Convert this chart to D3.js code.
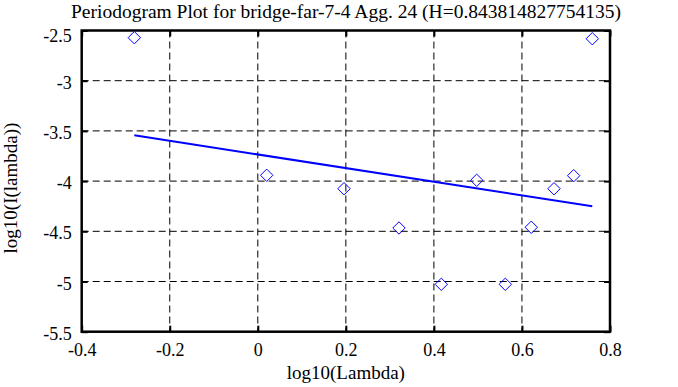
<!DOCTYPE html>
<html>
<head>
<meta charset="utf-8">
<script src="https://cdn.jsdelivr.net/npm/d3@7"></script>
<style>
    body { margin: 0; background: #fff; }
    text { font-family: "Liberation Serif", "DejaVu Serif", serif; fill: #000; }
    .gridLine { stroke: #000; stroke-width: 1; stroke-dasharray: 7,4; }
    .frame { fill: none; stroke: #000; stroke-width: 2.5; }
</style>
</head>
<body>
<script>
(function(){

    //periodogram points (log10 lambda, log10 I(lambda))
    var logLambda = [-0.2805, 0.0202, 0.1958, 0.3207, 0.4168, 0.4972, 0.5622, 0.6212, 0.6728, 0.7175, 0.7598];
    var logPower = [-2.572, -3.942, -4.076, -4.467, -5.028, -3.992, -5.028, -4.460, -4.076, -3.946, -2.582];

    //least squares fit line end points
    var fitX = [-0.2805, 0.7598];
    var fitY = [-3.544, -4.251];

    //tick labels
    var xTicks = [-0.4, -0.2, 0, 0.2, 0.4, 0.6, 0.8];
    var yTicks = [-2.5, -3, -3.5, -4, -4.5, -5, -5.5];

    var titleText = "Periodogram Plot for bridge-far-7-4 Agg. 24 (H=0.843814827754135)";

    //begin script when window loads
    window.onload = setChart();

    function setChart(){
        var width = 678,
            height = 387,
            left = 81.7,
            right = 610,
            top = 30.5,
            bottom = 331.7;

        var svg = d3.select("body")
            .append("svg")
            .attr("width", width)
            .attr("height", height);

        var xScale = d3.scaleLinear()
            .domain([-0.4, 0.8])
            .range([left, right]);

        var yScale = d3.scaleLinear()
            .domain([-5.5, -2.5])
            .range([bottom, top]);

        //plain hyphen labels like the original
        var fmt = function(d){ return String(d); };

        //dashed grid lines
        svg.selectAll(".vGrid")
            .data(xTicks.slice(1, -1))
            .enter()
            .append("line")
            .attr("class", "gridLine")
            .attr("x1", function(d){ return xScale(d); })
            .attr("x2", function(d){ return xScale(d); })
            .attr("y1", top)
            .attr("y2", bottom);

        svg.selectAll(".hGrid")
            .data(yTicks.slice(1, -1))
            .enter()
            .append("line")
            .attr("class", "gridLine")
            .attr("x1", left)
            .attr("x2", right)
            .attr("y1", function(d){ return yScale(d); })
            .attr("y2", function(d){ return yScale(d); });

        //axes with inward ticks on all four sides
        var axisStyle = function(g){
            g.attr("font-family", "Liberation Serif").attr("font-size", 18);
            g.select(".domain").remove();
            g.selectAll(".tick line").attr("stroke", "#000").attr("stroke-width", 2);
            g.selectAll(".tick text").style("font-family", "'Liberation Serif', serif");
        };

        svg.append("g")
            .attr("transform", "translate(0," + bottom + ")")
            .call(d3.axisBottom(xScale).tickValues(xTicks).tickSize(-6).tickPadding(12)
                .tickFormat(fmt))
            .call(axisStyle);

        svg.append("g")
            .attr("transform", "translate(0," + top + ")")
            .call(d3.axisTop(xScale).tickValues(xTicks).tickSize(-6).tickFormat(""))
            .call(axisStyle);

        var yAxis = svg.append("g")
            .attr("transform", "translate(" + left + ",0)")
            .call(d3.axisLeft(yScale).tickValues(yTicks).tickSize(-6).tickPadding(10)
                .tickFormat(fmt))
            .call(axisStyle);

        //labels sit a little low; top one is pushed inside the frame
        yAxis.selectAll(".tick text")
            .attr("dy", function(d){ return d === -2.5 ? "0.62em" : "0.42em"; });

        svg.append("g")
            .attr("transform", "translate(" + right + ",0)")
            .call(d3.axisRight(yScale).tickValues(yTicks).tickSize(-6).tickFormat(""))
            .call(axisStyle);

        //plot frame
        svg.append("rect")
            .attr("class", "frame")
            .attr("x", left)
            .attr("y", top)
            .attr("width", right - left)
            .attr("height", bottom - top);

        //fit line
        var line = d3.line()
            .x(function(d){ return xScale(d[0]); })
            .y(function(d){ return yScale(d[1]); });

        svg.append("path")
            .datum(d3.zip(fitX, fitY))
            .attr("d", line)
            .attr("fill", "none")
            .attr("stroke", "#0000ff")
            .attr("stroke-width", 2);

        //diamond markers
        var diamond = d3.symbol().type(d3.symbolDiamond2).size(98);

        svg.selectAll(".pt")
            .data(d3.zip(logLambda, logPower))
            .enter()
            .append("path")
            .attr("class", "pt")
            .attr("d", diamond)
            .attr("transform", function(d){
                return "translate(" + xScale(d[0]) + "," + yScale(d[1]) + ")";
            })
            .attr("fill", "none")
            .attr("stroke", "#0000ff")
            .attr("stroke-width", 1);

        //title and axis labels
        svg.append("text")
            .attr("x", 346)
            .attr("y", 18)
            .attr("text-anchor", "middle")
            .style("font-size", "19.5px")
            .text(titleText);

        svg.append("text")
            .attr("x", (left + right) / 2)
            .attr("y", 379)
            .attr("text-anchor", "middle")
            .style("font-size", "19px")
            .text("log10(Lambda)");

        svg.append("text")
            .attr("transform", "translate(17,188) rotate(-90)")
            .attr("text-anchor", "middle")
            .style("font-size", "19px")
            .text("log10(I(lambda))");
    };

})();
</script>
</body>
</html>
